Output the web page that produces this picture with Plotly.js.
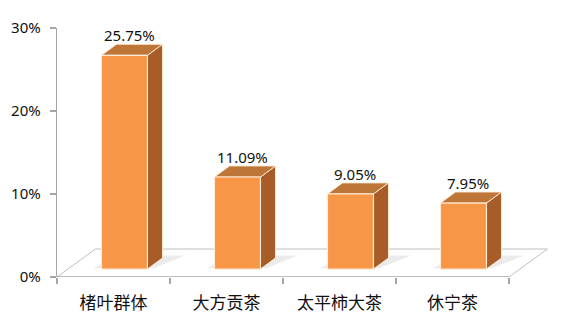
<!DOCTYPE html>
<html>
<head>
<meta charset="utf-8">
<script src="https://cdn.plot.ly/plotly-3.0.1.min.js"></script>
<style>html,body{margin:0;padding:0;background:#fff;}#chart{width:568px;height:325px;}</style>
</head>
<body>
<div id="chart"></div>
<script>
// ---- data ----
const categories = ['楮叶群体', '大方贡茶', '太平柿大茶', '休宁茶'];
const values = [25.75, 11.09, 9.05, 7.95];
const yTickVals = [0, 10, 20, 30];
const yTickText = ['0%', '10%', '20%', '30%'];

// ---- 3D geometry (style constants, in axis units) ----
const floorDx = 0.34, floorDy = 3.37;     // floor depth projection
const barBase = 0.96, barShift = 0.097;   // bar front face placed inside floor
const barW = 0.407;                        // front face width
const depthDx = 0.133, depthDy = 1.33;     // bar depth projection
const n = categories.length;
const xMin = -0.5, xMax = n - 0.5 + floorDx + 0.005;

const traces = [];
// floor outline
traces.push({
  type: 'scatter', mode: 'lines', hoverinfo: 'skip', showlegend: false,
  x: [xMin + floorDx, n - 0.5 + floorDx, n - 0.5, null, xMin, xMin + floorDx],
  y: [floorDy, floorDy, 0, null, 0, floorDy],
  line: {color: '#BFBFBF', width: 1}
});
// front edge of floor (acts as x-axis line)
traces.push({
  type: 'scatter', mode: 'lines', hoverinfo: 'skip', showlegend: false,
  x: [xMin, n - 0.5], y: [0, 0],
  line: {color: '#A6A6A6', width: 1.3}
});

const edge = {color: 'rgba(255,236,214,0.9)', width: 1};
values.forEach((v, i) => {
  const x0 = i + barShift - barW / 2, x1 = i + barShift + barW / 2;
  const top = barBase + v;
  // soft shadow on floor
  traces.push({
    type: 'scatter', mode: 'lines', fill: 'toself', hoverinfo: 'skip', showlegend: false,
    x: [x0 - 0.07, x1 + 0.05, x1 + depthDx + 0.2, x0 + depthDx + 0.02, x0 - 0.07],
    y: [barBase + 0.1, barBase + 0.1, barBase + depthDy + 0.3, barBase + depthDy + 0.3, barBase + 0.1],
    line: {width: 0}, fillcolor: 'rgba(0,0,0,0.08)'
  });
  // side face
  traces.push({
    type: 'scatter', mode: 'lines', fill: 'toself', hoverinfo: 'skip', showlegend: false,
    x: [x1, x1 + depthDx, x1 + depthDx, x1, x1],
    y: [barBase, barBase + depthDy, top + depthDy, top, barBase],
    line: edge, fillcolor: '#A85C28'
  });
  // top face
  traces.push({
    type: 'scatter', mode: 'lines', fill: 'toself', hoverinfo: 'skip', showlegend: false,
    x: [x0, x1, x1 + depthDx, x0 + depthDx, x0],
    y: [top, top, top + depthDy, top + depthDy, top],
    line: edge, fillcolor: '#BD7538'
  });
  // front face
  traces.push({
    type: 'scatter', mode: 'lines', fill: 'toself', hoverinfo: 'skip', showlegend: false,
    x: [x0, x1, x1, x0, x0],
    y: [barBase, barBase, top, top, barBase],
    line: {color: '#FDE8D2', width: 1.2}, fillcolor: '#F79646'
  });
});

const annotations = values.map((v, i) => ({
  x: i + barShift + depthDx / 3, y: barBase + v + depthDy,
  xref: 'x', yref: 'y', yanchor: 'bottom', yshift: -3,
  text: v.toFixed(2) + '%', showarrow: false,
  font: {family: 'Noto Sans, DejaVu Sans, sans-serif', size: 15, color: '#111'}
}));

const layout = {
  width: 568, height: 325,
  margin: {l: 57, r: 20, t: 28, b: 48},
  paper_bgcolor: '#fff', plot_bgcolor: 'rgba(0,0,0,0)',
  showlegend: false,
  xaxis: {
    range: [xMin, xMax], showgrid: false, zeroline: false, showline: false,
    tickmode: 'array', tickvals: categories.map((c, i) => i), ticktext: categories,
    ticks: '', ticklabelstandoff: 14,
    tickfont: {family: 'Noto Sans CJK SC, sans-serif', size: 17, color: '#111'},
    minor: {tickmode: 'linear', tick0: -0.5, dtick: 1, ticks: 'outside', ticklen: 6, tickcolor: '#A6A6A6', tickwidth: 1.3, showgrid: false},
    fixedrange: true
  },
  yaxis: {
    range: [0, 30], showgrid: false, zeroline: false,
    showline: true, linecolor: '#A6A6A6', linewidth: 1.3,
    tickmode: 'array', tickvals: yTickVals, ticktext: yTickText,
    ticks: 'outside', ticklen: 6, tickcolor: '#A6A6A6', tickwidth: 1.3,
    ticklabelstandoff: 6,
    tickfont: {family: 'Noto Sans, DejaVu Sans, sans-serif', size: 15, color: '#111'},
    fixedrange: true
  },
  annotations: annotations
};

Plotly.newPlot('chart', traces, layout, {displayModeBar: false, staticPlot: true});
</script>
</body>
</html>
